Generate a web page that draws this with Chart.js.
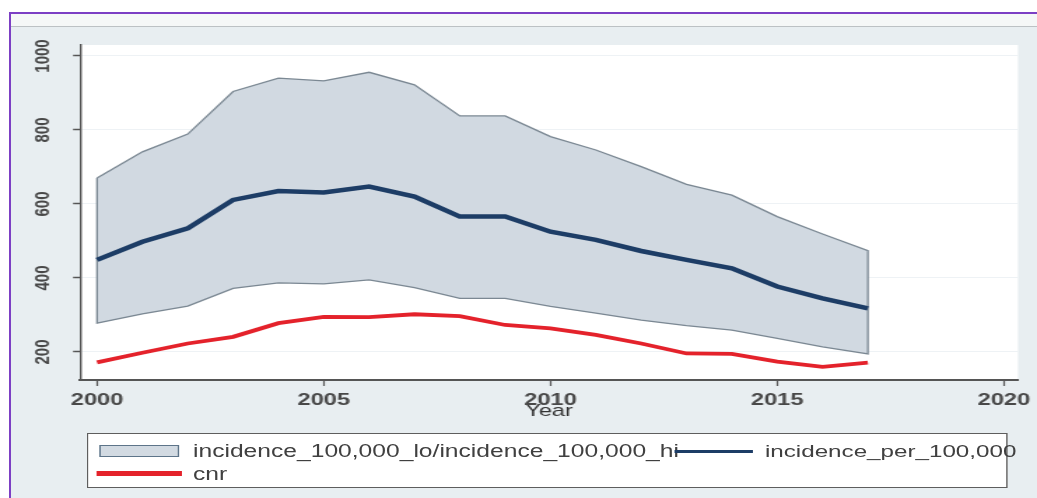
<!DOCTYPE html>
<html>
<head>
<meta charset="utf-8">
<script src="https://cdn.jsdelivr.net/npm/chart.js@4.4.1/dist/chart.umd.min.js"></script>
<style>
  html, body { margin:0; padding:0; overflow:hidden; }
  body { width:1037px; height:498px; background:#ffffff; position:relative; font-family:"Liberation Sans", Arial, sans-serif; }
  #frame { position:absolute; left:9px; top:12px; width:1000px; height:484px; border-left:2px solid #7c3fc4; border-top:2px solid #7c3fc4; background:#e8eef1; }
  #frame2 { position:absolute; left:1011px; top:14px; width:26px; height:484px; background:#e8eef1; }
  #topline { position:absolute; left:1011px; top:12px; width:26px; height:2px; background:#7c3fc4; }
  #band { position:absolute; left:11px; top:14px; width:1026px; height:12px; background:#f5f7f7; border-bottom:1px solid #bcc1c4; }
  #wrap { position:absolute; left:0; top:0; width:741px; height:498px; transform:scaleX(1.39946); transform-origin:0 0; }
  #c { position:absolute; left:0; top:0; }
  #legend { position:absolute; left:62.2px; top:433px; width:658px; height:55px; background:#ffffff; border:1px solid #5e5e5e; box-sizing:border-box; }
  .lg { position:absolute; }
  .txt { position:absolute; font-size:17.6px; line-height:20px; color:#404040; white-space:nowrap; }
</style>
</head>
<body>
<div id="frame"></div>
<div id="frame2"></div>
<div id="topline"></div>
<div id="band"></div>
<div id="wrap">
  <canvas id="c" width="741" height="498"></canvas>
  <div id="legend"></div>
  <div class="lg" style="left:70.7px; top:445px; width:57px; height:12px; background:#d2dae2; border:1px solid #5d7489; box-sizing:border-box;"></div>
  <div class="txt" id="t1" style="left:137.9px; top:441px;"></div>
  <div class="lg" style="left:481.5px; top:449.5px; width:56px; height:3.5px; background:#1d3d66;"></div>
  <div class="txt" id="t2" style="left:546.6px; top:441px; font-size:17.3px;"></div>
  <div class="lg" style="left:69.3px; top:471px; width:61px; height:4.5px; background:#e4222b;"></div>
  <div class="txt" id="t3" style="left:137.9px; top:464px;"></div>
</div>
<script>
// ---- data ----
const years = [2000,2001,2002,2003,2004,2005,2006,2007,2008,2009,2010,2011,2012,2013,2014,2015,2016,2017];
const incidenceHi = [670,741,789,904,940,933,956,922,838,838,782,746,701,653,624,566,519,474];
const incidenceLo = [278,303,324,372,387,384,395,374,345,345,323,305,286,271,259,237,214,195];
const incidencePer100k = [449,498,534,611,635,631,647,620,566,566,525,503,473,449,426,377,345,318];
const cnr = [172,198,223,241,278,295,294,302,297,273,264,246,223,196,195,174,160,171];
const yTicks = [200,400,600,800,1000];
const xTicks = [2000,2005,2010,2015,2020];
const bandLabel = 'incidence_100,000_lo/incidence_100,000_hi';
const midLabel = 'incidence_per_100,000';
const cnrLabel = 'cnr';
const xTitle = 'Year';

document.getElementById('t1').textContent = bandLabel;
document.getElementById('t2').textContent = midLabel;
document.getElementById('t3').textContent = cnrLabel;

Chart.defaults.font.family = '"Liberation Sans", Arial, sans-serif';

const pts = arr => years.map((x, i) => ({x: x, y: arr[i]}));
const bandPoly = pts(incidenceHi)
  .concat(pts(incidenceLo).reverse())
  .concat([{x: years[0], y: incidenceHi[0]}]);

const plotBg = {
  id: 'plotBg',
  beforeDraw(chart) {
    const {ctx, chartArea: a} = chart;
    ctx.save();
    ctx.fillStyle = '#ffffff';
    ctx.fillRect(a.left, a.top, a.right - a.left, a.bottom - a.top);
    ctx.restore();
  }
};

new Chart(document.getElementById('c'), {
  type: 'line',
  data: {
    datasets: [
      {label: cnrLabel, data: pts(cnr), borderColor: '#e4222b', borderWidth: 3.8, pointRadius: 0, fill: false, tension: 0, order: 1},
      {label: midLabel, data: pts(incidencePer100k), borderColor: '#1d3d66', borderWidth: 4.5, pointRadius: 0, fill: false, tension: 0, order: 2},
      {label: bandLabel, data: bandPoly, borderColor: '#7b8893', borderWidth: 1.3, backgroundColor: '#d1d9e1', pointRadius: 0, fill: 'shape', tension: 0, order: 5}
    ]
  },
  options: {
    responsive: false,
    animation: false,
    devicePixelRatio: 1,
    layout: {padding: {left: 0, right: 13.6, top: 45, bottom: 76}},
    plugins: {legend: {display: false}, tooltip: {enabled: false}},
    scales: {
      x: {
        type: 'linear', min: 1999.625, max: 2020.31,
        afterBuildTicks: s => { s.ticks = xTicks.map(v => ({value: v})); },
        afterFit: s => { s.height = 42; },
        grid: {drawOnChartArea: false, drawTicks: true, tickLength: 6, tickColor: '#555555', tickWidth: 1.2},
        border: {color: '#555555', width: 2},
        ticks: {font: {size: 17, weight: 'bold'}, color: '#484848', padding: 4, maxRotation: 0, autoSkip: false, callback: v => String(v)},
        title: {display: true, text: xTitle, font: {size: 17}, color: '#333333', padding: 0}
      },
      y: {
        type: 'linear', min: 124.3, max: 1029.7,
        afterBuildTicks: s => { s.ticks = yTicks.map(v => ({value: v})); },
        afterFit: s => { s.width = 57.2; },
        grid: {color: '#eef2f5', lineWidth: 1, tickColor: '#555555', tickLength: 5, tickWidth: 1.5},
        border: {color: '#555555', width: 1.4},
        ticks: {font: {size: 15, weight: 'bold'}, color: '#484848', minRotation: 90, maxRotation: 90, crossAlign: 'center', padding: 4.5, autoSkip: false, callback: v => String(v)}
      }
    }
  },
  plugins: [plotBg]
});
</script>
</body>
</html>
